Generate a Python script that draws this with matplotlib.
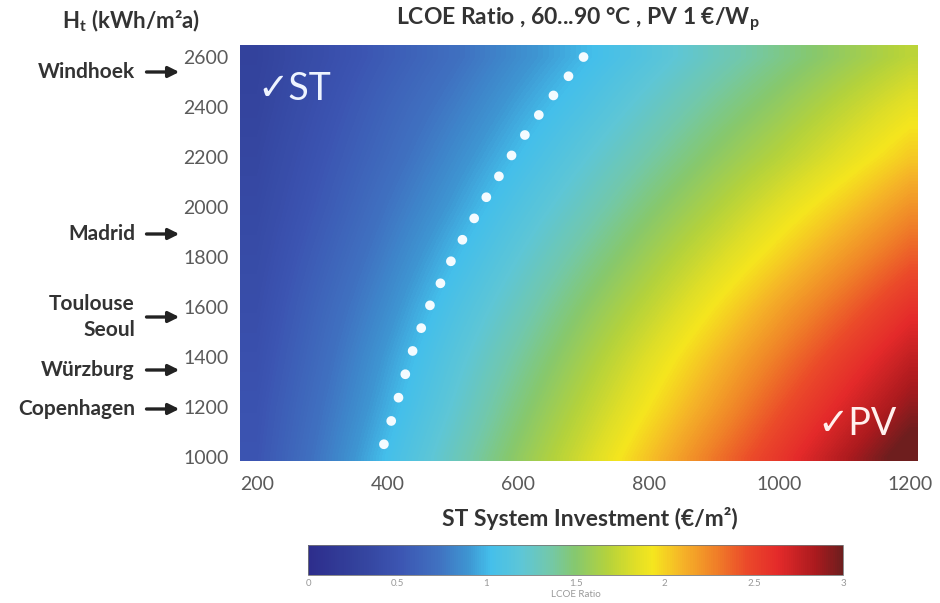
import numpy as np
import matplotlib
matplotlib.use('Agg')
import matplotlib.pyplot as plt
from matplotlib.colors import LinearSegmentedColormap

plt.rcParams['font.family'] = ['Lato', 'DejaVu Sans']
plt.rcParams['mathtext.fontset'] = 'custom'
plt.rcParams['mathtext.rm'] = 'Lato'
plt.rcParams['mathtext.bf'] = 'Lato:bold'
plt.rcParams['mathtext.it'] = 'Lato:italic'

# ST system investment (EUR/m2) and annual irradiation H_t (kWh/m2a)
investment = [200, 300, 400, 500, 600, 700, 800, 900, 1000, 1100, 1200]
irradiation = [1000, 1200, 1400, 1600, 1800, 2000, 2200, 2400, 2600]

# LCOE ratio, one row per irradiation level
ratio_1000 = [0.51, 0.77, 1.03, 1.28, 1.54, 1.79, 2.05, 2.31, 2.56, 2.82, 3.08]
ratio_1200 = [0.49, 0.73, 0.97, 1.21, 1.46, 1.70, 1.94, 2.18, 2.43, 2.67, 2.91]
ratio_1400 = [0.46, 0.69, 0.92, 1.15, 1.38, 1.61, 1.84, 2.07, 2.30, 2.53, 2.76]
ratio_1600 = [0.43, 0.65, 0.86, 1.08, 1.29, 1.51, 1.72, 1.94, 2.16, 2.37, 2.59]
ratio_1800 = [0.40, 0.60, 0.80, 1.00, 1.20, 1.40, 1.60, 1.80, 2.00, 2.20, 2.40]
ratio_2000 = [0.37, 0.55, 0.74, 0.92, 1.11, 1.29, 1.48, 1.66, 1.85, 2.03, 2.22]
ratio_2200 = [0.34, 0.51, 0.68, 0.85, 1.02, 1.19, 1.36, 1.53, 1.69, 1.86, 2.03]
ratio_2400 = [0.31, 0.47, 0.63, 0.78, 0.94, 1.09, 1.25, 1.41, 1.56, 1.72, 1.88]
ratio_2600 = [0.29, 0.43, 0.57, 0.71, 0.86, 1.00, 1.14, 1.29, 1.43, 1.57, 1.71]

# cities and their irradiation level (arrow position)
cities = ['Windhoek', 'Madrid', 'Toulouse\nSeoul', 'Würzburg', 'Copenhagen']
city_irradiation = [2540, 1892, 1560, 1348, 1192]

cbar_ticks = [0, 0.5, 1, 1.5, 2, 2.5, 3]
cbar_labels = ['0', '0.5', '1', '1.5', '2', '2.5', '3']

ratio = np.array([ratio_1000, ratio_1200, ratio_1400, ratio_1600, ratio_1800,
                  ratio_2000, ratio_2200, ratio_2400, ratio_2600])

# softened jet-like palette
jet_soft = LinearSegmentedColormap.from_list('jet_soft', [
    (0.00, '#2d2d8c'), (0.10, '#34449e'), (0.17, '#3c55b2'), (0.24, '#4070c0'),
    (0.30, '#3e96d2'), (0.34, '#44bfeb'), (0.40, '#5ec6d6'), (0.45, '#72c8ac'),
    (0.50, '#86c86e'), (0.56, '#b4d23c'), (0.61, '#dede28'), (0.645, '#f5e61e'),
    (0.70, '#f5b428'), (0.76, '#f08228'), (0.82, '#eb4a2a'), (0.88, '#e42a2a'),
    (0.95, '#aa1a1e'), (1.00, '#6e1e1e')])

fig = plt.figure(figsize=(9.4, 6.03), dpi=100)
ax = fig.add_axes([240/940, 1 - 461/603, 678/940, 416/603])

dx = (investment[1] - investment[0]) / 2
dy = (irradiation[1] - irradiation[0]) / 2
im = ax.imshow(ratio, origin='lower', cmap=jet_soft, vmin=0, vmax=3,
               interpolation='bilinear', aspect='auto',
               extent=[investment[0] - dx, investment[-1] + dx,
                       irradiation[0] - dy, irradiation[-1] + dy])

# break-even line (ratio = 1)
cs = ax.contour(investment, irradiation, ratio, levels=[1.0], colors='#f4fbff',
                linewidths=7, linestyles=[(0, (0.01, 2.5))])
cs.set_capstyle('round')

ax.set_xlim(174, 1212)
ax.set_ylim(984, 2648)
ax.set_xticks([200, 400, 600, 800, 1000, 1200])
ax.set_yticks(range(1000, 2601, 200))
ax.tick_params(length=0, labelsize=14, labelcolor='#5a5a5a')
ax.tick_params(axis='x', pad=11)
ax.tick_params(axis='y', pad=8)
for s in ax.spines.values():
    s.set_visible(False)

ax.text(200, 2428, '✓ST', color='#eef4ff', fontsize=27, va='baseline', ha='left')
ax.text(1058, 1088, '✓PV', color='#fff0ee', fontsize=27, va='baseline', ha='left')

for name, h in zip(cities, city_irradiation):
    ax.annotate('', xy=(-0.0855, h), xytext=(-0.142, h),
                xycoords=ax.get_yaxis_transform(), textcoords=ax.get_yaxis_transform(),
                arrowprops=dict(arrowstyle='-|>', color='#222222', lw=2.4,
                                mutation_scale=16), annotation_clip=False)
    ax.text(-0.155, h, name, transform=ax.get_yaxis_transform(), ha='right',
            va='center', fontsize=15, fontweight='bold', color='#333333',
            linespacing=1.35)

fig.text(578/940, 1 - 19/603, r'LCOE Ratio , 60...90 °C , PV 1 €/W$_\mathbf{p}$',
         ha='center', va='center', fontsize=16.5, fontweight='bold', color='#333333')
fig.text(131/940, 1 - 21/603, r'H$_\mathbf{t}$ (kWh/m²a)',
         ha='center', va='center', fontsize=16, fontweight='bold', color='#333333')
fig.text(590/940, 1 - 518/603, 'ST System Investment (€/m²)',
         ha='center', va='center', fontsize=16.5, fontweight='bold', color='#333333')

cax = fig.add_axes([308/940, 1 - 575/603, 535/940, 30/603])
cb = fig.colorbar(im, cax=cax, orientation='horizontal', ticks=cbar_ticks)
cb.set_ticklabels(cbar_labels)
cb.ax.tick_params(length=0, labelsize=7, labelcolor='#999999', pad=3)
cb.outline.set_linewidth(0.6)
cb.outline.set_edgecolor('#777777')
cb.set_label('LCOE Ratio', fontsize=7, color='#999999', labelpad=1)

fig.savefig('out.png', dpi=100)
